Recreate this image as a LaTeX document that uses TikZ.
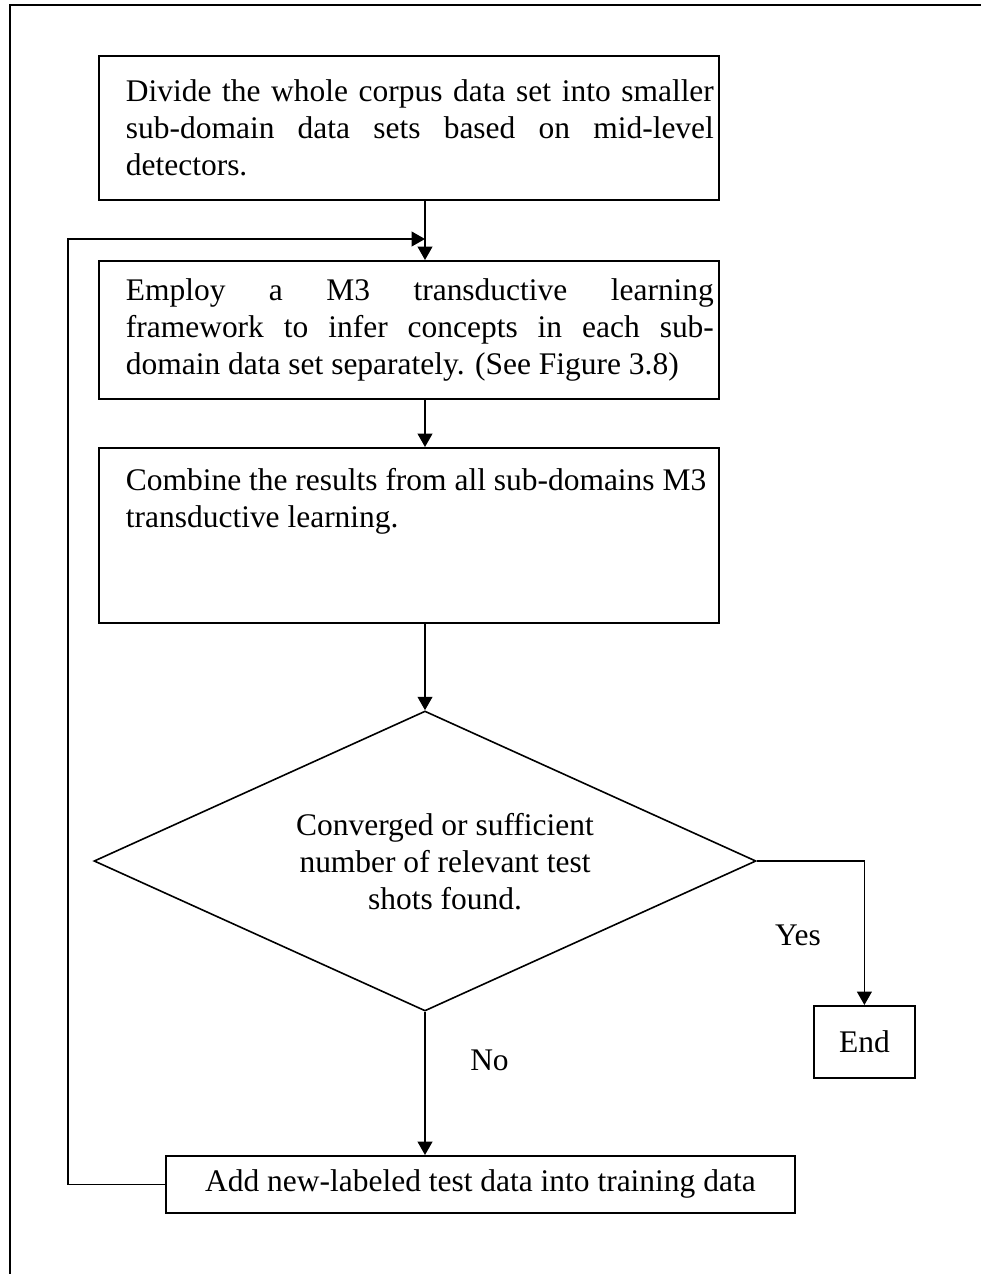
\documentclass[tikz,border=0pt]{standalone}
\usepackage{fontspec}
\setmainfont{Liberation Serif}
\usetikzlibrary{arrows.meta,shapes.geometric}
\begin{document}
\begin{tikzpicture}[x=0.75pt,y=-0.75pt,
  every node/.style={font=\fontsize{23.6pt}{27.75pt}\selectfont},
  box/.style={draw, line width=1.35pt, inner sep=0pt, anchor=north west},
  decision/.style={draw, diamond, shape aspect=2.2, line width=1.2pt, inner sep=0pt},
  flow/.style={line width=1.35pt, -{Triangle[length=10pt,width=11pt]}},
  frame/.style={line width=1.6pt},
  plain/.style={inner sep=0pt}]
\useasboundingbox (0,0) rectangle (981,1274);

% page frame: top and left edges only
\draw[frame] (981,5) -- (10,5) -- (10,1274);

% process boxes
\node[box, minimum width=465pt, minimum height=108pt] (b1) at (98,55)
  {\hspace*{16.5pt}\parbox{441pt}{Divide the whole corpus data set into smaller\linebreak
   sub-domain data sets based on mid-level\linebreak detectors.}};

\node[box, minimum width=465pt, minimum height=103.5pt] (b2) at (98,260)
  {\hspace*{16.5pt}\parbox{441pt}{Employ a M3 transductive learning\linebreak
   framework to infer concepts in each sub-\linebreak
   domain data set separately. (See Figure 3.8)}};

\node[box, minimum width=465pt, minimum height=131.25pt] (b3) at (98,447)
  {\hspace*{16.5pt}\parbox[c][100pt][t]{441pt}{\raggedright Combine the results from all sub-domains M3\\
   transductive learning.}};

% decision
\node[decision, minimum width=496.5pt, minimum height=225pt] (dec) at (425,861) {};
\node[plain, align=center] (dectxt) at (445,862)
  {Converged or sufficient\\ number of relevant test\\ shots found.};

\node[box, minimum width=75.75pt, minimum height=54pt] (endb) at (813,1005) {End};
\node[box, minimum width=471.75pt, minimum height=42.75pt] (add) at (165,1155)
  {Add new-labeled test data into training data};

% branch labels
\node[plain] (yes) at (798,935) {Yes};
\node[plain, anchor=west] (no) at (470,1060) {No};

% connectors
\coordinate (join) at (425,239);
\coordinate (loopx) at (68,1186);
\draw[flow] (b1.south -| dec.north) -- (b2.north -| dec.north);
\draw[flow] (b2.south -| dec.north) -- (b3.north -| dec.north);
\draw[flow] (b3.south -| dec.north) -- (dec.north);
\draw[flow] (dec.east) -| (endb.north);
\draw[flow] (dec.south) -- (add.north -| dec.south);
\draw[flow] (add.west) -- (add.west -| loopx) |- (join);
\end{tikzpicture}
\end{document}
